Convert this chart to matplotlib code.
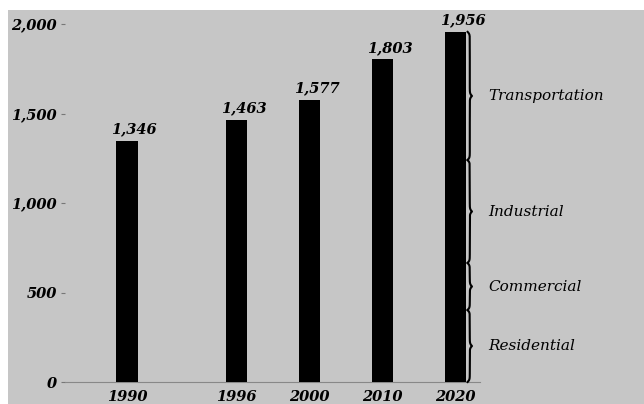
import numpy as np
import matplotlib
matplotlib.use("Agg")
import matplotlib.pyplot as plt
from matplotlib.patches import Rectangle

# data
years = ["1990", "1996", "2000", "2010", "2020"]
totals = [1346, 1463, 1577, 1803, 1956]
value_labels = ["1,346", "1,463", "1,577", "1,803", "1,956"]
# 1990 -> 1996 gap is drawn wider than the others
x_pos = [0, 1.5, 2.5, 3.5, 4.5]

sectors = ["Residential", "Commercial", "Industrial", "Transportation"]
sector_tops = [402, 665, 1240, 1956]

yticks = [0, 500, 1000, 1500, 2000]
ytick_labels = ["0", "500", "1,000", "1,500", "2,000"]

bg = "#c6c6c6"
font = dict(family="DejaVu Serif", style="italic")
numfont = dict(family="DejaVu Serif", style="italic", weight="semibold")

fig = plt.figure(figsize=(6.44, 4.04), dpi=100)
fig.patch.set_facecolor("white")
fig.add_artist(Rectangle((8 / 644, 0), 1, 1 - 10 / 404, transform=fig.transFigure,
                         facecolor=bg, edgecolor="none", zorder=-10))

ax = fig.add_axes([65 / 644, 22 / 404, (480 - 65) / 644, (382 - 24) / 404])
ax.patch.set_alpha(0)

ax.bar(x_pos, totals, width=0.29, color="black", zorder=3)
for x, v, lab in zip(x_pos, totals, value_labels):
    ax.text(x + 0.1, v + 25, lab, ha="center", va="bottom", fontsize=10.5, **numfont)

ax.set_xlim(-0.85, 4.84)
ax.set_ylim(0, 2000)
ax.set_yticks(yticks)
ax.set_yticklabels(ytick_labels, fontsize=10.5, **numfont)
ax.set_xticks(x_pos)
ax.set_xticklabels(years, fontsize=10.5, **numfont)
ax.tick_params(axis="y", length=3, width=0.8, color="#777777", pad=3)
ax.tick_params(axis="x", length=0, pad=6)
for s in ["top", "right", "left"]:
    ax.spines[s].set_visible(False)
ax.spines["bottom"].set_color("#888888")
ax.spines["bottom"].set_linewidth(0.8)


def brace(ax, x, y0, y1, w=0.06, beta=0.15):
    # vertical curly brace pointing right, from y0 to y1
    n = 401
    yy = np.linspace(y0, y1, n)
    half = yy[: n // 2 + 1]
    xs = (1 / (1 + np.exp(-beta * (half - half[0])))
          + 1 / (1 + np.exp(-beta * (half - half[-1]))))
    xs = np.concatenate((xs, xs[-2::-1]))
    ax.plot(x + (xs - 1) * w, yy, color="black", lw=1.5, clip_on=False, zorder=4)


bottom = 0
for name, top in zip(sectors, sector_tops):
    brace(ax, 4.70, bottom, top)
    ax.text(4.95, (bottom + top) / 2, name, ha="left", va="center",
            fontsize=11, clip_on=False, **font)
    bottom = top

fig.savefig("out.png", dpi=100, facecolor=fig.get_facecolor())
